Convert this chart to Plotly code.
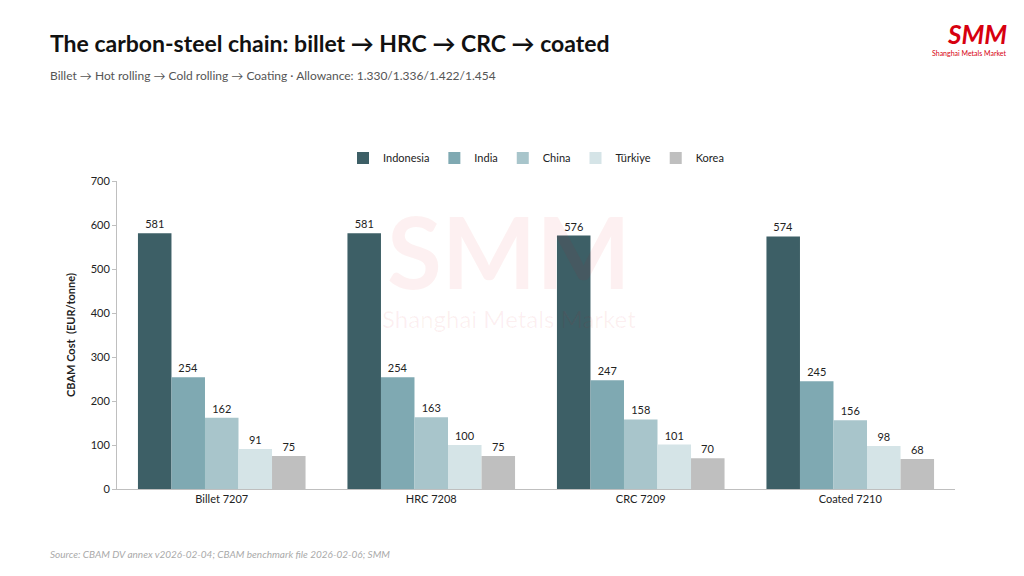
import plotly.graph_objects as go

categories = ["Billet 7207", "HRC 7208", "CRC 7209", "Coated 7210"]
series = ["Indonesia", "India", "China", "Türkiye", "Korea"]
values = {
    "Indonesia": [581, 581, 576, 574],
    "India": [254, 254, 247, 245],
    "China": [162, 163, 158, 156],
    "Türkiye": [91, 100, 101, 98],
    "Korea": [75, 75, 70, 68],
}
colors = ["#3d5f66", "#7fa9b2", "#a8c5cb", "#d5e4e7", "#bfbfbf"]

DX, DY = 9, 8  # page offset observed in rendering
W, H = 1024, 576
L, T = 118 - DX, 181 - DY
R = W - (956 - DX)
B = H - (489 - DY)
PW, PH = W - L - R, H - T - B

def px(x):
    return (x - DX - L) / PW

def py(y):
    return (H - (y - DY) - B) / PH

fig = go.Figure()
for s, c in zip(series, colors):
    fig.add_bar(name=s, x=categories, y=values[s], marker_color=c, marker_line_width=0,
                text=values[s], textposition="outside", textfont=dict(size=11, color="#222"),
                cliponaxis=False)

fig.update_layout(
    width=W, height=H, barmode="group", bargap=0.2, bargroupgap=0,
    plot_bgcolor="white", paper_bgcolor="white",
    font=dict(family="Lato, Noto Sans, sans-serif", color="#222"),
    margin=dict(l=L, r=R, t=T, b=B, autoexpand=False),
    legend=dict(orientation="h", x=0.5, xanchor="center", y=py(158), yanchor="middle",
                font=dict(size=11), itemwidth=30, traceorder="normal"),
    xaxis=dict(showline=True, linecolor="#bfbfbf", ticks="", tickfont=dict(size=11), automargin=False),
    yaxis=dict(range=[0, 700], dtick=100, showgrid=False, showline=True, linecolor="#bfbfbf",
               ticks="outside", ticklen=4, tickcolor="#bfbfbf", tickfont=dict(size=11), automargin=False,
               title=dict(text="<b>CBAM Cost  (EUR/tonne)</b>", font=dict(size=11), standoff=12)),
)
texts = [
    ("<b>The carbon-steel chain: billet → HRC → CRC → coated</b>", 49, 43, dict(size=23, color="#111")),
    ("Billet → Hot rolling → Cold rolling → Coating · Allowance: 1.330/1.336/1.422/1.454", 49, 75,
     dict(size=12, color="#555")),
    ("<i>Source: CBAM DV annex v2026-02-04; CBAM benchmark file 2026-02-06; SMM</i>", 49, 554,
     dict(size=10, color="#aaa")),
]
for t, x, y, f in texts:
    fig.add_annotation(xref="paper", yref="paper", xanchor="left", yanchor="middle",
                       showarrow=False, x=px(x), y=py(y), text=t, font=f)
# logo and watermark
fig.add_annotation(xref="paper", yref="paper", x=px(1010), xanchor="right", y=py(34), yanchor="middle",
                   text="<b><i>SMM</i></b>", showarrow=False, font=dict(size=26, color="#d7000f"))
fig.add_annotation(xref="paper", yref="paper", x=px(1010), xanchor="right", y=py(53), yanchor="middle",
                   text="Shanghai Metals Market", showarrow=False, font=dict(size=7, color="#d7000f"))
fig.add_annotation(xref="paper", yref="paper", x=px(510), y=py(250), yanchor="middle",
                   text="<b>SMM</b>", showarrow=False, font=dict(size=100, color="rgba(215,0,15,0.06)"))
fig.add_annotation(xref="paper", yref="paper", x=px(510), y=py(318), yanchor="middle",
                   text="Shanghai Metals Market", showarrow=False, font=dict(size=24, color="rgba(215,0,15,0.06)"))
fig.write_html("out.html")
